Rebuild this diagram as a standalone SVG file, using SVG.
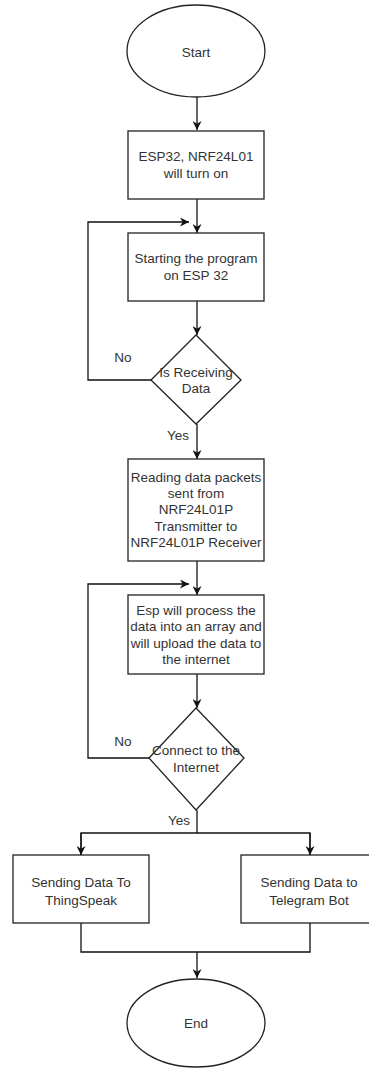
<svg xmlns="http://www.w3.org/2000/svg" width="369" height="1068" viewBox="0 0 369 1068">
<style>
.n{fill:#fff;stroke:#222;stroke-width:1.3}
.c{fill:none;stroke:#111;stroke-width:1.3}
text{font-family:"Liberation Sans",Arial,sans-serif;font-size:13.5px;fill:#333;text-anchor:middle}
</style>
<defs>
<marker id="ah" viewBox="0 0 10 10" refX="10" refY="5" markerWidth="9" markerHeight="9" markerUnits="userSpaceOnUse" orient="auto">
<path d="M0,0 L10,5 L0,10 L3,5 Z" fill="#111"/>
</marker>
</defs>
<rect width="369" height="1068" fill="#fff"/>
<g id="connectors">
<path class="c" d="M197,97 V130" marker-end="url(#ah)"/>
<path class="c" d="M197,199 V233" marker-end="url(#ah)"/>
<path class="c" d="M197,301 V335" marker-end="url(#ah)"/>
<path class="c" d="M151,380 H88 V222 H189" marker-end="url(#ah)"/>
<path class="c" d="M197,424 V459" marker-end="url(#ah)"/>
<path class="c" d="M197,561 V595" marker-end="url(#ah)"/>
<path class="c" d="M149,758 H88 V584 H189" marker-end="url(#ah)"/>
<path class="c" d="M197,674 V708" marker-end="url(#ah)"/>
<path class="c" d="M197,810 V833"/>
<path class="c" d="M81,855 V833 H310 V855"/>
<path class="c" d="M81,833 V855" marker-end="url(#ah)"/>
<path class="c" d="M310,833 V855" marker-end="url(#ah)"/>
<path class="c" d="M81,923 V952 H310 V923"/>
<path class="c" d="M197,952 V978" marker-end="url(#ah)"/>
<text x="123" y="362">No</text>
<text x="178" y="440">Yes</text>
<text x="123" y="746">No</text>
<text x="179" y="825">Yes</text>
</g>
<g id="start"><ellipse class="n" cx="196" cy="51" rx="69" ry="46"/><text x="196" y="57">Start</text></g>
<g id="power"><rect class="n" x="128" y="131" width="136" height="68"/><text x="196" y="161">ESP32, NRF24L01</text><text x="196" y="178">will turn on</text></g>
<g id="startprog"><rect class="n" x="128" y="233" width="136" height="68"/><text x="196" y="263">Starting the program</text><text x="196" y="280">on ESP 32</text></g>
<g id="receiving"><path class="n" d="M196,335 L241,380 L196,424 L151,380 Z"/><text x="196" y="377">Is Receiving</text><text x="196" y="393">Data</text></g>
<g id="reading"><rect class="n" x="128" y="459" width="136" height="102"/><text x="196" y="482">Reading data packets</text><text x="196" y="498">sent from</text><text x="196" y="514">NRF24L01P</text><text x="196" y="531">Transmitter to</text><text x="196" y="547">NRF24L01P Receiver</text></g>
<g id="process"><rect class="n" x="128" y="595" width="136" height="79"/><text x="196" y="615">Esp will process the</text><text x="196" y="631">data into an array and</text><text x="196" y="648">will upload the data to</text><text x="196" y="664">the internet</text></g>
<g id="connect"><path class="n" d="M196,708 L244,758 L196,810 L149,758 Z"/><text x="196" y="755">Connect to the</text><text x="196" y="772">Internet</text></g>
<g id="thingspeak"><rect class="n" x="13" y="855" width="136" height="68"/><text x="81" y="887">Sending Data To</text><text x="81" y="905">ThingSpeak</text></g>
<g id="telegram"><rect class="n" x="241" y="855" width="137" height="68"/><text x="309" y="887">Sending Data to</text><text x="309" y="905">Telegram Bot</text></g>
<g id="end"><ellipse class="n" cx="196" cy="1023" rx="69" ry="44"/><text x="196" y="1028">End</text></g>
</svg>
